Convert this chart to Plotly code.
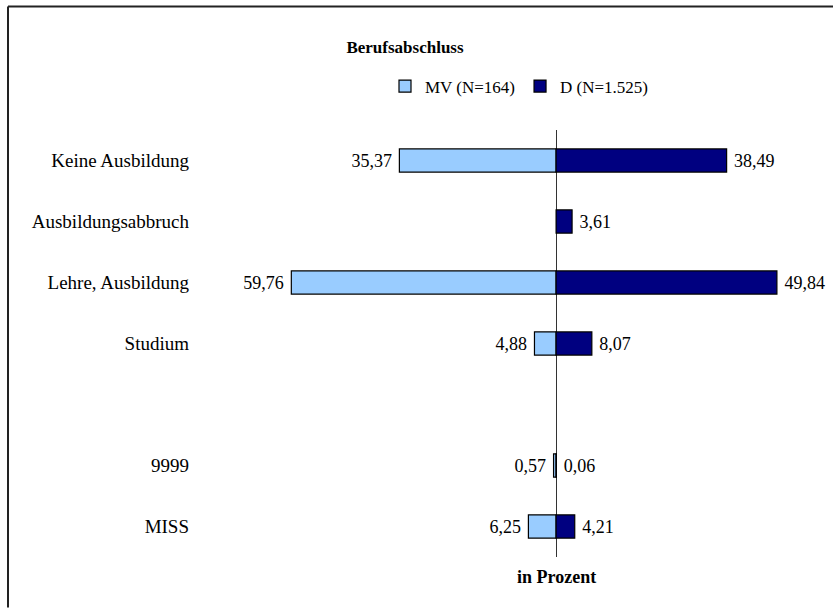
import plotly.graph_objects as go

categories = ["Keine Ausbildung", "Ausbildungsabbruch", "Lehre, Ausbildung", "Studium", " ", "9999", "MISS"]
mv_values = [35.37, None, 59.76, 4.88, None, 0.57, 6.25]
d_values = [38.49, 3.61, 49.84, 8.07, None, 0.06, 4.21]
series_names = ["MV (N=164)", "D (N=1.525)"]

def fmt(v):
    return "" if v is None else f"{v:.2f}".replace(".", ",")

FONT = "'Times New Roman', 'Liberation Serif', 'DejaVu Serif', serif"

fig = go.Figure()
fig.add_trace(go.Bar(
    y=categories, x=[None if v is None else -v for v in mv_values], orientation="h",
    name=series_names[0], marker=dict(color="#99CCFF", line=dict(color="black", width=1.2)),
    text=[fmt(v) + " " for v in mv_values], textposition="outside", cliponaxis=False,
    textfont=dict(family=FONT, size=18, color="black"), hoverinfo="skip",
))
fig.add_trace(go.Bar(
    y=categories, x=d_values, orientation="h",
    name=series_names[1], marker=dict(color="#000080", line=dict(color="black", width=1.2)),
    text=[" " + fmt(v) for v in d_values], textposition="outside", cliponaxis=False,
    textfont=dict(family=FONT, size=18, color="black"), hoverinfo="skip",
))

fig.update_layout(
    width=833, height=608,
    margin=dict(l=195, r=0, t=130, b=51),
    barmode="relative", bargap=0.62,
    plot_bgcolor="white", paper_bgcolor="white",
    font=dict(family=FONT, size=18, color="black"),
    title=dict(text="<b>Berufsabschluss</b>", x=405/833, xanchor="center",
               y=1-47/608, yanchor="middle", font=dict(family=FONT, size=17, color="black")),
    legend=dict(orientation="h", x=(385-195)/638, xanchor="left", y=(557.5-87)/427, yanchor="middle",
                font=dict(family=FONT, size=17, color="black"), itemwidth=30,
                bgcolor="rgba(0,0,0,0)", tracegroupgap=0),
    showlegend=True,
    xaxis=dict(range=[-81.5, 62.5], showgrid=False, showticklabels=False, ticks="",
               zeroline=True, zerolinecolor="#333333", zerolinewidth=1, fixedrange=True),
    yaxis=dict(categoryorder="array", categoryarray=categories, autorange="reversed",
               showgrid=False, ticks="", showline=False, zeroline=False,
               ticklabelstandoff=5, tickfont=dict(family=FONT, size=19, color="black")),
)

fig.add_annotation(text="<b>in Prozent</b>", x=0, xref="x", y=0, yref="paper", yshift=-20,
                   yanchor="middle", xanchor="center", showarrow=False,
                   font=dict(family=FONT, size=18, color="black"))

# frame: only top and left edges are visible in the reference
fig.add_shape(type="line", xref="paper", yref="paper",
              x0=(8-195)/638, x1=(833-195)/638, y0=(557.5-7)/427, y1=(557.5-7)/427,
              line=dict(color="#222222", width=2), layer="below")
fig.add_shape(type="line", xref="paper", yref="paper",
              x0=(8-195)/638, x1=(8-195)/638, y0=(557.5-608)/427, y1=(557.5-7)/427,
              line=dict(color="#222222", width=2), layer="below")

fig.write_html("out.html", config={"displayModeBar": False},
               post_script="document.body.style.margin='0';document.body.style.overflow='hidden';")
